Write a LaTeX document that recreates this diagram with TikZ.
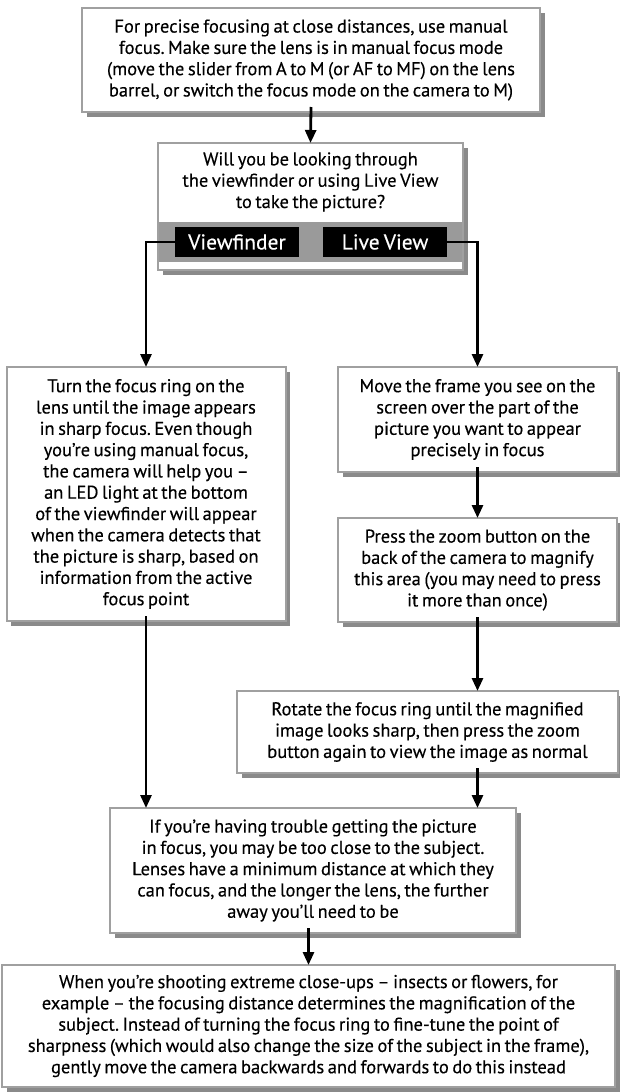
\documentclass[tikz,border=0pt]{standalone}
\usepackage{fontspec}
\setmainfont{PT Sans}[WordSpace=0.72, FakeBold=0.3]
\usetikzlibrary{arrows.meta,shadows}
\definecolor{boxline}{HTML}{A0A0A0}
\definecolor{boxshade}{HTML}{8A8A8A}
\definecolor{bandgray}{HTML}{9A9A9A}
\frenchspacing
\begin{document}
\begin{tikzpicture}[x=1pt,y=-1pt,
  every node/.style={font=\fontsize{18.5}{21.3}\selectfont, inner sep=0pt, outer sep=0pt},
  stepbox/.style={draw=boxline, line width=2pt, fill=white, align=center,
    drop shadow={shadow xshift=4.5pt, shadow yshift=-4.5pt, fill=boxshade, opacity=1}},
  tag/.style={fill=black, text=white, font=\fontsize{21.5}{24}\selectfont, inner sep=0pt},
  flow/.style={line width=2.8pt, -{Triangle[length=13pt,width=11pt]}}]
\useasboundingbox (0,0) rectangle (620,1092);

% opening instruction
\node[stepbox, minimum width=458pt, minimum height=104pt] (start) at (311,60)
  {For precise focusing at close distances, use manual\\
   focus. Make sure the lens is in manual focus mode\\
   (move the slider from A to M (or AF to MF) on the lens\\
   barrel, or switch the focus mode on the camera to M)};

% the question with its two answers
\node[stepbox, minimum width=305pt, minimum height=127pt] (ask) at (310.5,206.5) {};
\fill[bandgray] (159,222) rectangle (462,262);
\node[align=center] (asktext) at (310.5,182)
  {Will you be looking through\\the viewfinder or using Live View\\to take the picture?};
\node[tag, minimum width=124pt, minimum height=30pt] (vf) at (237,242) {Viewfinder};
\node[tag, minimum width=124pt, minimum height=30pt] (lv) at (385,242) {Live View};

% viewfinder branch
\node[stepbox, minimum width=279pt, minimum height=254pt] (turn) at (146,494)
  {Turn the focus ring on the\\
   lens until the image appears\\
   in sharp focus. Even though\\
   you’re using manual focus,\\
   the camera will help you –\\
   an LED light at the bottom\\
   of the viewfinder will appear\\
   when the camera detects that\\
   the picture is sharp, based on\\
   information from the active\\
   focus point};

% live view branch
\node[stepbox, minimum width=279pt, minimum height=105pt] (move) at (477.5,419.5)
  {Move the frame you see on the\\
   screen over the part of the\\
   picture you want to appear\\
   precisely in focus};
\node[stepbox, minimum width=279pt, minimum height=104pt] (zoom) at (477.5,570)
  {Press the zoom button on the\\
   back of the camera to magnify\\
   this area (you may need to press\\
   it more than once)};
\node[stepbox, minimum width=381pt, minimum height=82pt] (rotate) at (427.5,732)
  {Rotate the focus ring until the magnified\\
   image looks sharp, then press the zoom\\
   button again to view the image as normal};

% common steps
\node[stepbox, minimum width=406pt, minimum height=125pt] (close) at (313,870.5)
  {If you’re having trouble getting the picture\\
   in focus, you may be too close to the subject.\\
   Lenses have a minimum distance at which they\\
   can focus, and the longer the lens, the further\\
   away you’ll need to be};
\node[stepbox, minimum width=613pt, minimum height=122pt] (macro) at (308.5,1026)
  {When you’re shooting extreme close-ups – insects or flowers, for\\
   example – the focusing distance determines the magnification of the\\
   subject. Instead of turning the focus ring to fine-tune the point of\\
   sharpness (which would also change the size of the subject in the frame),\\
   gently move the camera backwards and forwards to do this instead};

% connectors
\draw[flow] ([yshift=5pt]start.south) -- (ask.north);
\draw[flow] (vf.west) -| (turn.north);
\draw[flow] (lv.east) -| (move.north);
\draw[flow] ([yshift=5pt]move.south) -- (zoom.north);
\draw[flow] ([yshift=5pt]zoom.south) -- (rotate.north -| zoom.south);
\draw[flow] ([yshift=5pt]turn.south) -- (close.north -| turn.south);
\draw[flow] ([yshift=5pt]rotate.south -| zoom.south) -- (close.north -| zoom.south);
\draw[flow] ([yshift=5pt]close.south -| macro.north) -- (macro.north);
\end{tikzpicture}
\end{document}
